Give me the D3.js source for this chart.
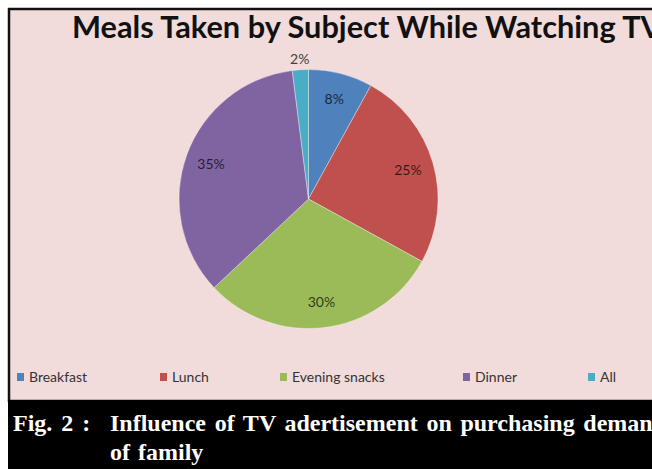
<!DOCTYPE html>
<html><head><meta charset="utf-8">
<script src="https://cdn.jsdelivr.net/npm/d3@7"></script>
<style>html,body{margin:0;padding:0;background:#fff;}svg{display:block;}</style>
</head><body>
<script>
const categories = ["Breakfast", "Lunch", "Evening snacks", "Dinner", "All"];
const values = [8, 25, 30, 35, 2];
const colors = ["#4F81BD", "#C0504D", "#9BBB59", "#8064A2", "#4BACC6"];
const title = "Meals Taken by Subject While Watching TV";
const captionLabel = "Fig. 2 :";
const captionLines = ["Influence of TV adertisement on purchasing demand", "of family"];

const W = 652, H = 469;
const svg = d3.select("body").append("svg").attr("width", W).attr("height", H);

// white page, chart frame
svg.append("rect").attr("width", W).attr("height", H).attr("fill", "#fff");
svg.append("rect").attr("x", 9).attr("y", 9).attr("width", W).attr("height", 392)
  .attr("fill", "#F2DCDB").attr("stroke", "#111").attr("stroke-width", 2.5);

// title
const t = svg.append("text").attr("x", 72).attr("y", 38)
  .attr("font-family", "Lato, 'Open Sans', sans-serif").attr("font-weight", "bold")
  .attr("font-size", 28).attr("fill", "#111").text(title);
const tw = t.node().getComputedTextLength();
t.attr("font-size", 28 * 590 / tw);

// pie
const cx = 308.5, cy = 199, r = 129.5;
const pie = d3.pie().sort(null).value(d => d)(values);
const arc = d3.arc().innerRadius(0).outerRadius(r);
const g = svg.append("g").attr("transform", `translate(${cx},${cy})`);
g.selectAll("path").data(pie).join("path")
  .attr("d", arc).attr("fill", (d, i) => colors[i])
  .attr("stroke", "rgba(255,255,255,0.35)").attr("stroke-width", 1);

const labelArc = d3.arc().innerRadius(r * 0.8).outerRadius(r * 0.8);
const outArc = d3.arc().innerRadius(r * 1.08).outerRadius(r * 1.08);
g.selectAll("text.lbl").data(pie).join("text").attr("class", "lbl")
  .attr("transform", d => {
    const p = (d.data < 5 ? outArc : labelArc).centroid(d);
    return `translate(${p[0]},${p[1]})`;
  })
  .attr("text-anchor", "middle").attr("dy", "0.35em")
  .attr("font-family", "Lato, 'Open Sans', sans-serif").attr("font-size", 14)
  .attr("fill", d => d.data < 5 ? "#404040" : "#000")
  .attr("fill-opacity", d => d.data < 5 ? 1 : 0.72)
  .text(d => d.data + "%");

// legend
const legendX = [17, 160, 280, 463, 588];
const lg = svg.append("g").selectAll("g").data(categories).join("g")
  .attr("transform", (d, i) => `translate(${legendX[i]},373)`);
lg.append("rect").attr("width", 7).attr("height", 8).attr("fill", (d, i) => colors[i]);
lg.append("text").attr("x", 12).attr("y", 8.5)
  .attr("font-family", "Lato, 'Open Sans', sans-serif").attr("font-size", 14)
  .attr("fill", "#333").text(d => d);

// caption band
svg.append("rect").attr("x", 8).attr("y", 400).attr("width", W).attr("height", H - 400).attr("fill", "#000");
const cap = svg.append("g").attr("font-family", "'Liberation Serif', 'Times New Roman', serif")
  .attr("font-weight", "bold").attr("font-size", 24).attr("fill", "#fff");
cap.append("text").attr("x", 13).attr("y", 431).attr("word-spacing", 3).text(captionLabel);
const lines = cap.selectAll("text.l").data(captionLines).join("text").attr("class", "l")
  .attr("x", 110).attr("y", (d, i) => 431 + i * 29).text(d => d);
// justify first line so that it spans to the right edge like the reference
const first = lines.filter((d, i) => i === 0);
const fw = first.node().getComputedTextLength();
const gaps = captionLines[0].split(" ").length - 1;
const ws = Math.max(0, (556 - fw) / gaps);
first.attr("word-spacing", ws);
lines.filter((d, i) => i === 1).attr("word-spacing", 2);
</script>
</body></html>
